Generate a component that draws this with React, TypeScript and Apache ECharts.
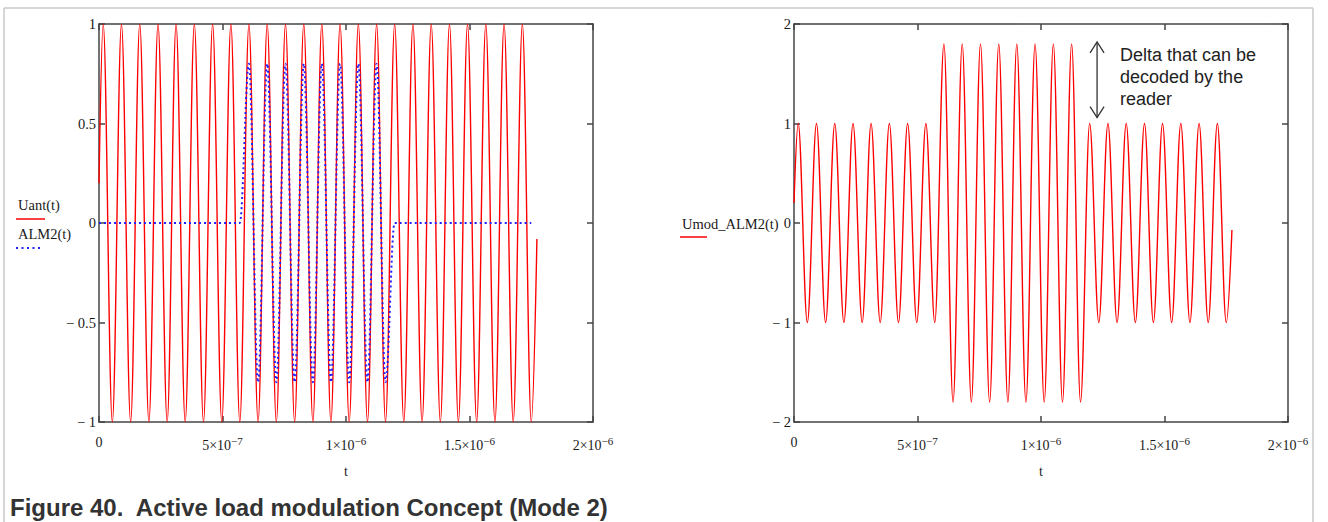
import React, { useEffect, useRef } from 'react';
import * as echarts from 'echarts';

// ---- data ----
// times (ns) of the start, of each carrier extremum (13.56 MHz), and of the end of the traces
const timesNs = [
  0,
  17, 54, 91, 128, 165, 202, 239, 276, 312, 349,
  386, 423, 460, 497, 534, 570, 607, 644, 681, 718,
  755, 792, 829, 866, 902, 939, 976, 1013, 1050, 1087,
  1124, 1160, 1197, 1234, 1271, 1308, 1345, 1382, 1419, 1455,
  1492, 1529, 1566, 1603, 1640, 1677, 1714, 1750,
  1773,
];

// Uant(t): antenna voltage
const uantValues = [
  0.2,
  1, -1, 1, -1, 1, -1, 1, -1, 1, -1,
  1, -1, 1, -1, 1, -1, 1, -1, 1, -1,
  1, -1, 1, -1, 1, -1, 1, -1, 1, -1,
  1, -1, 1, -1, 1, -1, 1, -1, 1, -1,
  1, -1, 1, -1, 1, -1, 1, -1,
  -0.08,
];

// ALM2(t): active load modulation burst
const almValues = [
  0,
  0, 0, 0, 0, 0, 0, 0, 0, 0, 0,
  0, 0, 0, 0, 0, 0, 0.8, -0.8, 0.8, -0.8,
  0.8, -0.8, 0.8, -0.8, 0.8, -0.8, 0.8, -0.8, 0.8, -0.8,
  0.8, -0.8, 0, 0, 0, 0, 0, 0, 0, 0,
  0, 0, 0, 0, 0, 0, 0, 0,
  null,
];

// Umod_ALM2(t): resulting signal
const umodValues = [
  0.2,
  1, -1, 1, -1, 1, -1, 1, -1, 1, -1,
  1, -1, 1, -1, 1, -1, 1.8, -1.8, 1.8, -1.8,
  1.8, -1.8, 1.8, -1.8, 1.8, -1.8, 1.8, -1.8, 1.8, -1.8,
  1.8, -1.8, 1, -1, 1, -1, 1, -1, 1, -1,
  1, -1, 1, -1, 1, -1, 1, -1,
  -0.07,
];

const xTickValues = [0, 5e-7, 1e-6, 1.5e-6, 2e-6];
const xTickLabels: [string, string][] = [
  ['0', ''],
  ['5×10', '−7'],
  ['1×10', '−6'],
  ['1.5×10', '−6'],
  ['2×10', '−6'],
];
const yLeftTickValues = [-1, -0.5, 0, 0.5, 1];
const yLeftTickLabels = ['− 1', '− 0.5', '0', '0.5', '1'];
const yRightTickValues = [-2, -1, 0, 1, 2];
const yRightTickLabels = ['− 2', '− 1', '0', '1', '2'];

// annotation anchor (data units of the right plot)
const deltaArrowT = 1.227e-6;
const deltaArrowTop = 1.82;
const deltaArrowBottom = 1.06;
const deltaTextT = 1.32e-6;
const deltaTextTop = 1.8;
const deltaText = 'Delta that can be\ndecoded by the\nreader';
const captionText = 'Figure 40.  Active load modulation Concept (Mode 2)';

// ---- styles ----
const SERIF = "'Liberation Serif', 'Times New Roman', serif";
const SANS = "'Liberation Sans', Arial, sans-serif";
const AXIS = '#444444';
const TXT = '#1a1a1a';
const RED = '#ff0000';
const BLUE = '#1f1fff';

const toPairs = (vals: (number | null)[]) =>
  vals.map((v, i) => [timesNs[i] * 1e-9, v]);

function findIdx(arr: number[], v: number) {
  let best = 0;
  for (let i = 0; i < arr.length; i++) {
    if (Math.abs(arr[i] - v) < Math.abs(arr[best] - v)) best = i;
  }
  return best;
}

function xAxis(gridIndex: number, position: 'top' | 'bottom') {
  const main = position === 'bottom';
  return {
    type: 'value',
    gridIndex,
    position,
    min: 0,
    max: 2e-6,
    interval: 5e-7,
    axisLine: { show: true, onZero: false, lineStyle: { color: AXIS, width: 1.5 } },
    axisTick: { show: true, inside: true, length: 6, lineStyle: { color: AXIS, width: 1.5 } },
    splitLine: { show: false },
    axisLabel: main
      ? {
          margin: 13,
          formatter: (v: number) => {
            const [m, e] = xTickLabels[findIdx(xTickValues, v)];
            return e ? `{b|${m}}{s|${e}}` : `{b|${m}}`;
          },
          rich: {
            b: { fontFamily: SERIF, fontSize: 14, color: TXT },
            s: { fontFamily: SERIF, fontSize: 11, color: TXT, padding: [0, 0, 10, 0] },
          },
        }
      : { show: false },
    name: main ? 't' : '',
    nameLocation: 'middle',
    nameGap: 42,
    nameTextStyle: { fontFamily: SERIF, fontSize: 14, color: TXT },
  };
}

function yAxis(gridIndex: number, position: 'left' | 'right', min: number, max: number, interval: number, vals: number[], labels: string[]) {
  const main = position === 'left';
  return {
    type: 'value',
    gridIndex,
    position,
    min,
    max,
    interval,
    axisLine: { show: true, onZero: false, lineStyle: { color: AXIS, width: 1.5 } },
    axisTick: { show: true, inside: true, length: 6, lineStyle: { color: AXIS, width: 1.5 } },
    splitLine: { show: false },
    axisLabel: main
      ? {
          margin: 3,
          fontFamily: SERIF,
          fontSize: 14.5,
          color: TXT,
          formatter: (v: number) => labels[findIdx(vals, v)],
        }
      : { show: false },
  };
}

function lineSeries(name: string, xi: number, yi: number, vals: (number | null)[], color: string, dotted: boolean, z: number) {
  return {
    name,
    type: 'line',
    xAxisIndex: xi,
    yAxisIndex: yi,
    data: toPairs(vals),
    symbol: 'none',
    showSymbol: false,
    smooth: 0.363,
    smoothMonotone: 'x',
    z,
    lineStyle: dotted
      ? { color, width: 2, type: [2, 3] }
      : { color, width: 1.4 },
  };
}

export default function App() {
  const ref = useRef<HTMLDivElement>(null);

  useEffect(() => {
    document.body.style.margin = '0';
    if (!ref.current) return;
    const chart = echarts.init(ref.current, null, { renderer: 'svg' });
    const option: any = {
      animation: false,
      backgroundColor: '#ffffff',
      grid: [
        { left: 99, top: 24, width: 494, height: 398 },
        { left: 794, top: 24, width: 494, height: 398 },
      ],
      xAxis: [xAxis(0, 'bottom'), xAxis(0, 'top'), xAxis(1, 'bottom'), xAxis(1, 'top')],
      yAxis: [
        yAxis(0, 'left', -1, 1, 0.5, yLeftTickValues, yLeftTickLabels),
        yAxis(0, 'right', -1, 1, 0.5, yLeftTickValues, yLeftTickLabels),
        yAxis(1, 'left', -2, 2, 1, yRightTickValues, yRightTickLabels),
        yAxis(1, 'right', -2, 2, 1, yRightTickValues, yRightTickLabels),
      ],
      series: [
        lineSeries('Uant(t)', 0, 0, uantValues, RED, false, 2),
        lineSeries('ALM2(t)', 0, 0, almValues, BLUE, true, 3),
        lineSeries('Umod_ALM2(t)', 2, 2, umodValues, RED, false, 2),
      ],
    };
    chart.setOption(option);

    const p = (t: number, v: number) => chart.convertToPixel({ gridIndex: 1 } as any, [t, v]) as number[];
    const aTop = p(deltaArrowT, deltaArrowTop);
    const aBot = p(deltaArrowT, deltaArrowBottom);
    const tPos = p(deltaTextT, deltaTextTop);
    const ARROW = '#333333';
    const FRAME = '#c8c8c8';

    chart.setOption({
      graphic: [
        // figure frame
        { type: 'line', shape: { x1: 4, y1: 8, x2: 1313, y2: 8 }, style: { stroke: FRAME, lineWidth: 1.5 } },
        { type: 'line', shape: { x1: 4, y1: 8, x2: 4, y2: 522 }, style: { stroke: FRAME, lineWidth: 1.5 } },
        { type: 'line', shape: { x1: 1313, y1: 8, x2: 1313, y2: 522 }, style: { stroke: FRAME, lineWidth: 1.5 } },
        // left legend
        { type: 'text', x: 18, y: 205, style: { text: 'Uant(t)', font: `14.5px ${SERIF}`, fill: TXT, textVerticalAlign: 'middle' } },
        { type: 'line', shape: { x1: 16, y1: 219, x2: 45, y2: 219 }, style: { stroke: RED, lineWidth: 1.5 } },
        { type: 'text', x: 18, y: 234, style: { text: 'ALM2(t)', font: `14.5px ${SERIF}`, fill: TXT, textVerticalAlign: 'middle' } },
        { type: 'line', shape: { x1: 16, y1: 248, x2: 40, y2: 248 }, style: { stroke: BLUE, lineWidth: 2, lineDash: [2, 3.5] } },
        // right legend
        { type: 'text', x: 682, y: 224, style: { text: 'Umod_ALM2(t)', font: `14.5px ${SERIF}`, fill: TXT, textVerticalAlign: 'middle' } },
        { type: 'line', shape: { x1: 680, y1: 237, x2: 707, y2: 237 }, style: { stroke: RED, lineWidth: 1.5 } },
        // delta arrow
        { type: 'line', shape: { x1: aTop[0], y1: aTop[1], x2: aBot[0], y2: aBot[1] }, style: { stroke: ARROW, lineWidth: 1.3 } },
        { type: 'polyline', shape: { points: [[aTop[0] - 7, aTop[1] + 11], [aTop[0], aTop[1]], [aTop[0] + 7, aTop[1] + 11]] }, style: { stroke: ARROW, lineWidth: 1.3, fill: 'none' } },
        { type: 'polyline', shape: { points: [[aBot[0] - 7, aBot[1] - 11], [aBot[0], aBot[1]], [aBot[0] + 7, aBot[1] - 11]] }, style: { stroke: ARROW, lineWidth: 1.3, fill: 'none' } },
        { type: 'text', x: tPos[0], y: tPos[1], style: { text: deltaText, font: `18px ${SANS}`, lineHeight: 22, fill: '#222222', textVerticalAlign: 'top' } },
        // caption
        { type: 'text', x: 10, y: 507, style: { text: captionText, font: `bold 24px ${SANS}`, fill: '#333333', textVerticalAlign: 'middle' } },
      ],
    });

    return () => chart.dispose();
  }, []);

  return <div ref={ref} style={{ width: 1328, height: 522 }} />;
}
